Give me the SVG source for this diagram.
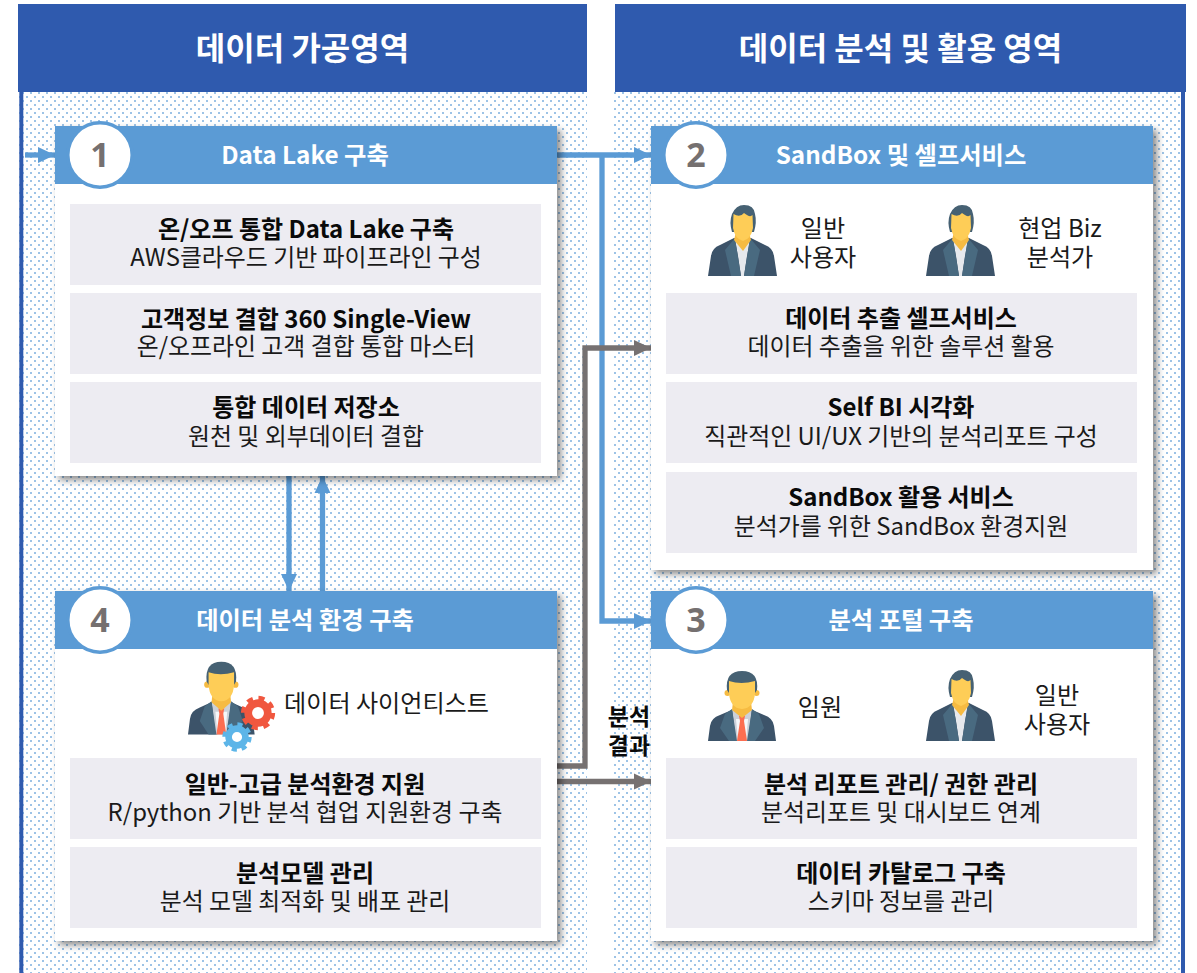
<svg xmlns="http://www.w3.org/2000/svg" width="1197" height="973" viewBox="0 0 1197 973">
<style>
text{font-family:"Noto Sans CJK KR","Noto Sans",sans-serif;text-anchor:middle}
.h{font-size:32px;font-weight:700;fill:#fff}
.ch{font-size:24.3px;font-weight:700;fill:#fff}
.num{font-size:34px;font-weight:700;fill:#757070;font-family:"Noto Sans","Noto Sans CJK KR",sans-serif}
.t{font-size:24px;font-weight:700;fill:#0a0a0a}
.s{font-size:23.9px;fill:#1a1a1a}
.l{font-size:24.1px;fill:#1a1a1a}
.band{fill:#2f5aae}
.card{fill:#fff;filter:url(#sh)}
.chead{fill:#5b9bd5}
.row{fill:#edecf2}
.circ{fill:#fff;stroke:#5b9bd5;stroke-width:3.5}
.blue{fill:none;stroke:#5b9bd5;stroke-width:5.3}
.grey{fill:none;stroke:#767171;stroke-width:5.3}
</style>
<defs>
<pattern id="dots" width="8" height="8" patternUnits="userSpaceOnUse" x="0" y="0">
<rect x="2" y="0" width="2" height="2" fill="#9dc3e6"/><rect x="6" y="4" width="2" height="2" fill="#9dc3e6"/>
</pattern>
<filter id="sh" x="-5%" y="-5%" width="112%" height="112%"><feDropShadow dx="4" dy="4" stdDeviation="3.5" flood-color="#000" flood-opacity=".45"/></filter>
<marker id="ab" markerUnits="userSpaceOnUse" markerWidth="18" markerHeight="18" refX="17" refY="9" orient="auto"><path d="M0 1L17 9L0 17Z" fill="#5b9bd5"/></marker>
<marker id="ag" markerUnits="userSpaceOnUse" markerWidth="18" markerHeight="18" refX="17" refY="9" orient="auto"><path d="M0 1L17 9L0 17Z" fill="#767171"/></marker>
<g id="p1">
<path d="M0 70L3 50Q4 42 12 39L26 32L43 32L57 39Q65 42 66 50L69 70Z" fill="#3c5369"/>
<path d="M27 34L42 34L39 50L36 70L33 70L30 50Z" fill="#e6e9ed"/>
<path d="M27 32L33 70L23 70L17 44L22 38Z M42 32L36 70L46 70L52 44L47 38Z" fill="#496a80"/>
<path d="M28 26L41 26L43 34L35 45L26 34Z" fill="#f6bb42"/>
<path d="M24 26Q21 16 24 8Q28 -1 36 -1Q46 -1 47 8Q49 16 46 26Z" fill="#466173"/>
<path d="M25.500 8Q32 12 36 7Q42 12 44.500 9L45 22Q43 33 35 35Q27 33 25 22Z" fill="#fecd57"/>
</g>
<g id="p2">
<path d="M0 65L2 50Q3 42 12 39L26 33L42 33L56 39Q65 42 66 50L68 65Z" fill="#3c5369"/>
<path d="M24 33L44 33L40 65L28 65Z" fill="#ccd1d9"/>
<path d="M28 43L40 43L38 65L30 65Z" fill="#f5f7fa"/>
<path d="M31 40L37 40L36 45L39 65L29 65L32 45Z" fill="#fc6e51"/>
<path d="M24 33L29 65L21 65L12 52L17 38Z M44 33L39 65L47 65L56 52L51 38Z" fill="#496a80"/>
<path d="M25 26L43 26L44 34L34 42L24 34Z" fill="#f6bb42"/>
<circle cx="19.500" cy="17" r="3" fill="#f6bb42"/><circle cx="48.500" cy="17" r="3" fill="#f6bb42"/>
<path d="M19 14Q17 -5 34 -5Q51 -5 49 14L47 17L21 17Z" fill="#466173"/>
<path d="M21 5Q33 9 47 5L47 17Q46 32 34 33Q22 32 21 17Z" fill="#fecd57"/>
</g>
<g id="gear">
<circle r="7" fill="#fff" stroke="currentColor" stroke-width="5.500"/>
<circle r="10.500" fill="none" stroke="currentColor" stroke-width="3.500" stroke-dasharray="4.250 4"/>
</g>
</defs>
<g id="panel-left">
<rect x="19" y="92" width="568" height="881" fill="url(#dots)"/>
<rect x="19.300" y="92" width="4" height="881" class="band"/>
<rect x="18" y="4" width="569" height="88" class="band"/>
<text x="302.500" y="60" class="h">데이터 가공영역</text>
</g>
<g id="panel-right">
<rect x="614" y="92" width="568" height="881" fill="url(#dots)"/>
<rect x="1181" y="92" width="4" height="881" class="band"/>
<rect x="615" y="4" width="571" height="88" class="band"/>
<text x="900.500" y="60" class="h">데이터 분석 및 활용 영역</text>
</g>
<g id="connectors">
<path class="blue" d="M25 155H55" marker-end="url(#ab)"/>
<path class="blue" d="M557 155H651" marker-end="url(#ab)"/>
<path class="blue" d="M602 155V621H651" marker-end="url(#ab)"/>
<path class="blue" d="M289 476V591" marker-end="url(#ab)"/>
<path class="blue" d="M322.500 591V476" marker-end="url(#ab)"/>
<path class="grey" d="M556 766H585V348H651" marker-end="url(#ag)"/>
<path class="grey" d="M556 781.500H651" marker-end="url(#ag)"/>
</g>
<g id="edge-label"><text x="629" y="725" class="t" style="font-size:23px">분석</text><text x="629" y="754" class="t" style="font-size:23px">결과</text></g>
<g id="node-1">
<rect x="55" y="126" width="502" height="350" class="card"/>
<rect x="55" y="126" width="502" height="58" class="chead"/>
<circle cx="100" cy="155" r="32.200" class="circ"/>
<text x="100" y="167" class="num">1</text>
<text x="305" y="164" class="ch">Data Lake 구축</text>
<rect x="70" y="204" width="471" height="81" class="row"/>
<text x="306" y="238" class="t">온/오프 통합 Data Lake 구축</text><text x="306" y="266" class="s">AWS클라우드 기반 파이프라인 구성</text>
<rect x="70" y="293" width="471" height="81" class="row"/>
<text x="306" y="328" class="t">고객정보 결합 360 Single-View</text><text x="306" y="355" class="s">온/오프라인 고객 결합 통합 마스터</text>
<rect x="70" y="382" width="471" height="81" class="row"/>
<text x="306" y="416" class="t">통합 데이터 저장소</text><text x="306" y="445" class="s">원천 및 외부데이터 결합</text>
</g>
<g id="node-4">
<rect x="55" y="591" width="502" height="350" class="card"/>
<rect x="55" y="591" width="502" height="58" class="chead"/>
<circle cx="100" cy="620" r="32.200" class="circ"/>
<text x="100" y="632" class="num">4</text>
<text x="305" y="629" class="ch">데이터 분석 환경 구축</text>
<use href="#p2" transform="translate(188 667) scale(.98 1.04)"/>
<use href="#gear" transform="translate(258 713) scale(1.4)" color="#f0573f"/>
<use href="#gear" transform="translate(237 737) scale(1.2)" color="#5db5e8"/>
<text x="386.500" y="712" class="l">데이터 사이언티스트</text>
<rect x="70" y="758" width="471" height="81" class="row"/>
<text x="305" y="793" class="t">일반-고급 분석환경 지원</text><text x="305" y="821" class="s">R/python 기반 분석 협업 지원환경 구축</text>
<rect x="70" y="847" width="471" height="81" class="row"/>
<text x="305" y="882" class="t">분석모델 관리</text><text x="305" y="910" class="s">분석 모델 최적화 및 배포 관리</text>
</g>
<g id="node-2">
<rect x="651" y="126" width="502" height="444" class="card"/>
<rect x="651" y="126" width="502" height="58" class="chead"/>
<circle cx="696" cy="155" r="32.200" class="circ"/>
<text x="696" y="167" class="num">2</text>
<text x="901" y="164" class="ch">SandBox 및 셀프서비스</text>
<use href="#p1" x="708" y="206"/>
<text x="823" y="237" class="l">일반</text><text x="823" y="266" class="l">사용자</text>
<use href="#p1" x="926" y="206"/>
<text x="1060" y="237" class="l">현업 Biz</text><text x="1060" y="266" class="l">분석가</text>
<rect x="666" y="293" width="471" height="81" class="row"/>
<text x="901" y="327" class="t">데이터 추출 셀프서비스</text><text x="901" y="355" class="s">데이터 추출을 위한 솔루션 활용</text>
<rect x="666" y="382" width="471" height="81" class="row"/>
<text x="901" y="416" class="t">Self BI 시각화</text><text x="901" y="445" class="s">직관적인 UI/UX 기반의 분석리포트 구성</text>
<rect x="666" y="472" width="471" height="81" class="row"/>
<text x="901" y="506" class="t">SandBox 활용 서비스</text><text x="901" y="535" class="s">분석가를 위한 SandBox 환경지원</text>
</g>
<g id="node-3">
<rect x="651" y="591" width="502" height="350" class="card"/>
<rect x="651" y="591" width="502" height="58" class="chead"/>
<circle cx="696" cy="620" r="32.200" class="circ"/>
<text x="696" y="632" class="num">3</text>
<text x="901" y="629" class="ch">분석 포털 구축</text>
<use href="#p2" x="708" y="676"/>
<text x="820" y="716" class="l">임원</text>
<use href="#p1" x="926" y="671"/>
<text x="1057" y="704" class="l">일반</text><text x="1057" y="733" class="l">사용자</text>
<rect x="666" y="758" width="471" height="81" class="row"/>
<text x="901" y="793" class="t">분석 리포트 관리/ 권한 관리</text><text x="901" y="821" class="s">분석리포트 및 대시보드 연계</text>
<rect x="666" y="847" width="471" height="81" class="row"/>
<text x="901" y="882" class="t">데이터 카탈로그 구축</text><text x="901" y="910" class="s">스키마 정보를 관리</text>
</g>
</svg>
